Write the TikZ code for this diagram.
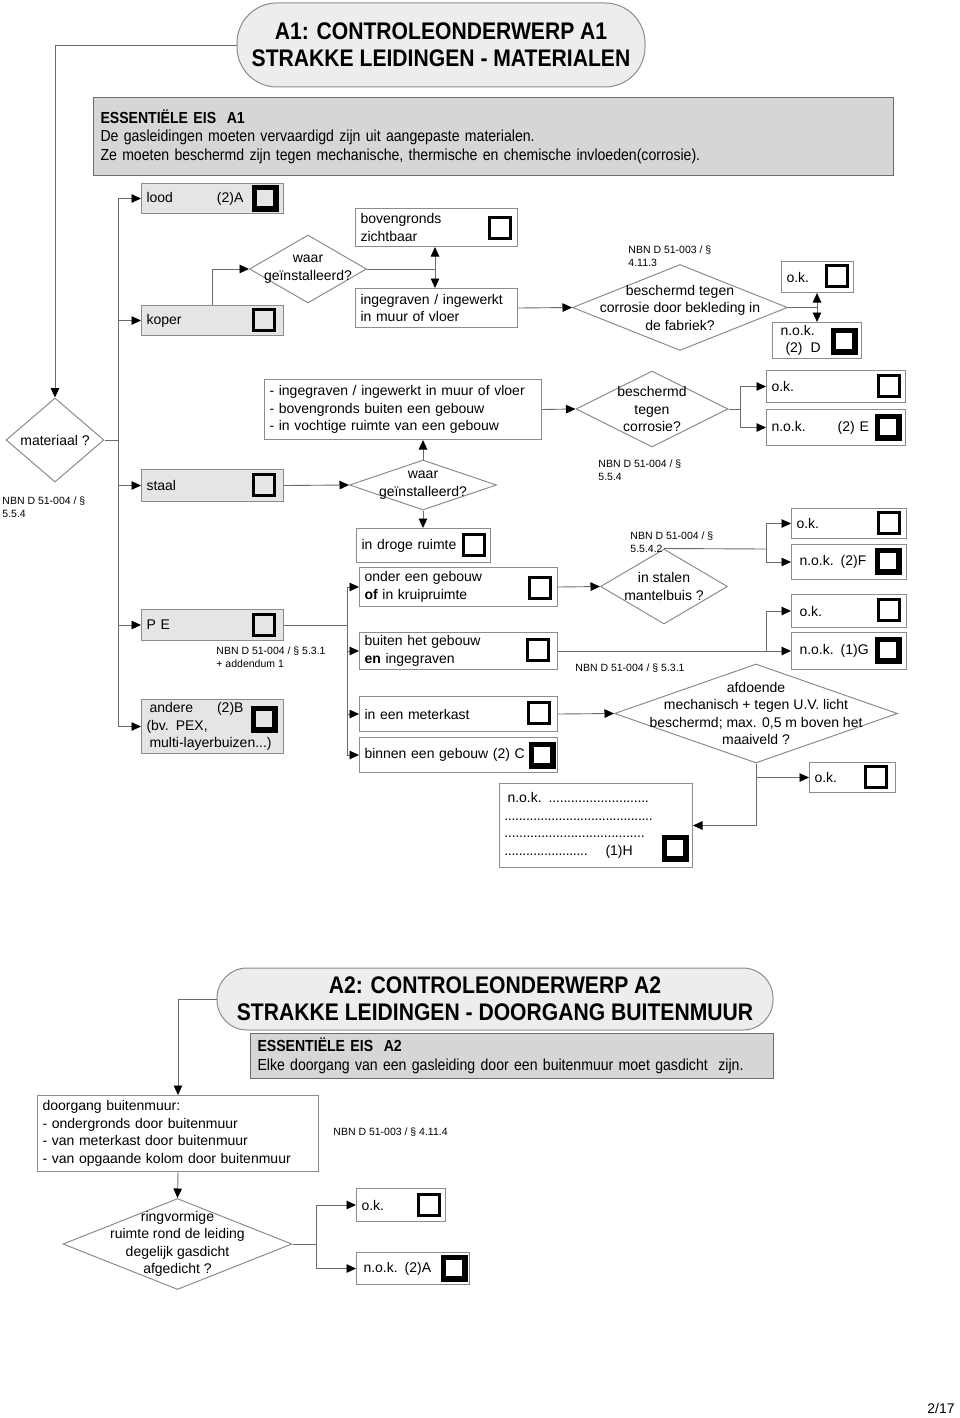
\documentclass[tikz,border=0pt]{standalone}
\usepackage{fontspec}
\setmainfont{Liberation Sans}
\newfontfamily\narrowfont{Liberation Sans}[FakeStretch=0.88]
\usetikzlibrary{shapes.geometric,arrows.meta}
\definecolor{edgegray}{gray}{0.55}
\definecolor{linegray}{gray}{0.42}
\definecolor{matgray}{gray}{0.9}
\definecolor{eisgray}{gray}{0.84}
\definecolor{pillgray}{gray}{0.93}
\newcommand{\dotline}[1]{\leavevmode\hbox to #1{\xleaders\hbox to 3.6pt{\hss.\hss}\hfill}}

\begin{document}
\begin{tikzpicture}[x=1pt,y=-1pt,line width=0.9pt,
    >={Triangle[length=9.5pt,width=8.5pt,color=black]},
    font=\fontsize{14}{17.5}\selectfont]
  \tikzstyle{box}=[draw=edgegray,line width=1pt,anchor=north west,inner xsep=5pt,inner ysep=0pt,align=left]
  \tikzstyle{mat}=[box,fill=matgray]
  \tikzstyle{dia}=[diamond,draw=edgegray,line width=1pt,fill=white,inner sep=0pt]
  \tikzstyle{chk}=[draw,line width=2.5pt,minimum size=21pt,inner sep=0pt]
  \tikzstyle{chkb}=[draw,line width=5.5pt,minimum size=21.5pt,inner sep=0pt]
  \tikzstyle{nbn}=[anchor=west,inner sep=0pt,align=left,font=\fontsize{10.5}{12.5}\selectfont]
  \tikzstyle{wire}=[draw=linegray]
  \tikzstyle{pill}=[draw=edgegray,fill=pillgray,line width=1pt,align=center,inner sep=0pt,font=\narrowfont\bfseries\fontsize{24}{27}\selectfont]
  \tikzstyle{eis}=[draw=linegray,fill=eisgray,line width=1pt,anchor=north west,align=left,inner xsep=7pt,inner ysep=0pt,font=\narrowfont\fontsize{16}{18.5}\selectfont]

  \useasboundingbox (0,0) rectangle (960,1418);

  % A1
  \node[pill,minimum width=408,minimum height=84,rounded corners=40] (T1) at (441,45)
    {A1: CONTROLEONDERWERP A1\\STRAKKE LEIDINGEN - MATERIALEN};
  \node[eis,minimum width=800,minimum height=78,text width=786] (E1) at (93,97)
    {\textbf{ESSENTIËLE EIS\ \ A1}\\De gasleidingen moeten vervaardigd zijn uit aangepaste materialen.\\Ze moeten beschermd zijn tegen mechanische, thermische en chemische invloeden(corrosie).};

  \node[dia,minimum width=98,minimum height=84,label=center:materiaal ?] (M) at (55,440) {};
  \node[nbn] (nM) at (2,507) {NBN D 51-004 / §\\5.5.4};

  % materialen
  \node[mat,minimum width=142,minimum height=30,text width=132] (lood) at (141,183) {lood\hspace{44pt}(2)A};
  \node[chkb] (cA) at (265,198) {};
  \node[mat,minimum width=142,minimum height=30,text width=132] (koper) at (141,305) {koper};
  \node[chk] (cK) at (264,320) {};
  \node[mat,minimum width=142,minimum height=32,text width=132] (staal) at (141,469) {staal};
  \node[chk] (cS) at (264,485) {};
  \node[mat,minimum width=142,minimum height=31,text width=132] (PE) at (141,609) {P E};
  \node[chk] (cPE) at (264,625) {};
  \node[nbn] (nPE) at (216,657) {NBN D 51-004 / § 5.3.1\\+ addendum 1};
  \node[mat,minimum width=142,minimum height=54,text width=132] (andere) at (141,699)
    {\hspace*{3pt}andere\hspace{24pt}(2)B\\(bv. PEX,\\\hspace*{3pt}multi-layerbuizen...)};
  \node[chkb] (cB) at (264,719) {};

  % koper
  \node[dia,minimum width=117,minimum height=68,label={[align=center]center:{waar\\geïnstalleerd?}}] (D1) at (308,269) {};
  \node[box,minimum width=162,minimum height=38,text width=152] (B1) at (355,208) {bovengronds\\zichtbaar};
  \node[chk] (cBo) at (500,228) {};
  \node[box,minimum width=162,minimum height=39,text width=152] (I1) at (355,288) {ingegraven / ingewerkt\\in muur of vloer};
  \node[dia,minimum width=215,minimum height=86,label={[align=center]center:{beschermd tegen\\corrosie door bekleding in\\de fabriek?}}] (D2) at (680,307.5) {};
  \node[nbn] (nD2) at (628,256) {NBN D 51-003 / §\\4.11.3};
  \node[box,minimum width=72,minimum height=31,text width=62] (OK1) at (781,261) {o.k.};
  \node[chk] (cO1) at (837,276) {};
  \node[box,minimum width=89,minimum height=36,text width=79] (NOK1) at (772,322)
    {\hspace*{3pt}n.o.k.\\\hspace*{8pt}(2)\hspace{8pt}D};
  \node[chkb] (cD) at (844,341) {};

  % staal
  \node[dia,minimum width=147,minimum height=50,label={[align=center]center:{waar\\geïnstalleerd?}}] (D4) at (423,485) {};
  \node[box,minimum width=277,minimum height=60,text width=267] (G) at (264,379)
    {- ingegraven / ingewerkt in muur of vloer\\- bovengronds buiten een gebouw\\- in vochtige ruimte van een gebouw};
  \node[dia,minimum width=152,minimum height=76,label={[align=center]center:{beschermd\\tegen\\corrosie?}}] (D3) at (652,409) {};
  \node[nbn] (nD3) at (598,470) {NBN D 51-004 / §\\5.5.4};
  \node[box,minimum width=139,minimum height=32,text width=129] (OK2) at (766,370) {o.k.};
  \node[chk] (cO2) at (889,386) {};
  \node[box,minimum width=139,minimum height=36,text width=129] (NOK2) at (766,409) {n.o.k.\hspace{32pt}(2) E};
  \node[chkb] (cE) at (888,427) {};
  \node[box,minimum width=134,minimum height=34,text width=124] (DR) at (356,528) {in droge ruimte};
  \node[chk] (cDr) at (474,545) {};

  % PE
  \node[box,minimum width=198,minimum height=39,text width=188] (ON) at (359,567) {onder een gebouw\\\textbf{of} in kruipruimte};
  \node[chk] (cOn) at (540,588) {};
  \node[box,minimum width=198,minimum height=37,text width=188] (BU) at (359,632) {buiten het gebouw\\\textbf{en} ingegraven};
  \node[chk] (cBu) at (538,650) {};
  \node[box,minimum width=198,minimum height=35,text width=188] (MK) at (359,696) {in een meterkast};
  \node[chk] (cMe) at (539,713) {};
  \node[box,minimum width=198,minimum height=35,text width=188] (BI) at (359,737) {binnen een gebouw (2) C};
  \node[chkb] (cC) at (542,755) {};

  \node[dia,minimum width=127,minimum height=75,label={[align=center]center:{in stalen\\mantelbuis ?}}] (D5) at (664,586.5) {};
  \node[nbn] (nD5) at (630,542) {NBN D 51-004 / §\\5.5.4.2};
  \node[box,minimum width=115,minimum height=30,text width=105] (OK3) at (791,508) {o.k.};
  \node[chk] (cO3) at (889,523) {};
  \node[box,minimum width=115,minimum height=35,text width=105] (NOK3) at (791,544) {\hspace*{3pt}n.o.k. (2)F};
  \node[chkb] (cF) at (888,561) {};
  \node[box,minimum width=115,minimum height=33,text width=105] (OK4) at (791,594) {\hspace*{3pt}o.k.};
  \node[chk] (cO4) at (889,610) {};
  \node[box,minimum width=115,minimum height=37,text width=105] (NOK4) at (791,632) {\hspace*{3pt}n.o.k. (1)G};
  \node[chkb] (cG) at (888,650) {};
  \node[nbn] (nBU) at (575,668) {NBN D 51-004 / § 5.3.1};

  \node[dia,minimum width=283,minimum height=99,label={[align=center]center:{afdoende\\mechanisch + tegen U.V. licht\\beschermd; max. 0,5 m boven het\\maaiveld ?}}] (D6) at (756,713.5) {};
  \node[box,minimum width=86,minimum height=30,text width=76] (OK5) at (809,762) {o.k.};
  \node[chk] (cO5) at (876,777) {};
  \node[box,minimum width=193,minimum height=84,text width=183] (H) at (499,783)
    {\hspace*{3pt}n.o.k. \dotline{100pt}\\\dotline{148pt}\\\dotline{140pt}\\\dotline{83pt}\hspace{18pt}(1)H};
  \node[chkb] (cH) at (675,848) {};

  % verbindingen A1
  \coordinate (bus) at (118,0);
  \draw[wire,->] (T1.west) -| (M.north);
  \draw[wire] (M.east) -- (bus |- M.east);
  \draw[wire] (bus |- lood.west) -- (bus |- andere.west);
  \foreach \n in {lood,koper,staal,PE,andere}
    \draw[wire,->] (bus |- \n.west) -- (\n.west);
  \draw[wire,->] (koper.north) |- (D1.west);
  \coordinate (s1) at (435,269);
  \draw[wire] (D1.east) -- (s1);
  \draw[wire,->] (s1) -- (s1 |- B1.south);
  \draw[wire,->] (s1) -- (s1 |- I1.north);
  \draw[wire,->] (I1.east) -- (D2.west);
  \coordinate (s2) at (817,307.5);
  \draw[wire] (D2.east) -- (s2);
  \draw[wire,->] (s2) -- (s2 |- OK1.south);
  \draw[wire,->] (s2) -- (s2 |- NOK1.north);

  \draw[wire,->] (staal.east) -- (D4.west);
  \draw[wire,->] (D4.north) -- (D4.north |- G.south);
  \draw[wire,->] (D4.south) -- (D4.south |- DR.north);
  \draw[wire,->] (G.east) -- (D3.west);
  \coordinate (s3) at (740,409);
  \draw[wire] (D3.east) -- (s3);
  \draw[wire,->] (s3) |- (OK2.west);
  \draw[wire,->] (s3) |- (NOK2.west);

  \coordinate (pb) at (347,0);
  \draw[wire] (PE.east) -- (pb |- PE.east);
  \draw[wire] (pb |- ON.west) -- (pb |- BI.west);
  \foreach \n in {ON,BU,MK,BI}
    \draw[wire,->] (pb |- \n.west) -- (\n.west);

  \draw[wire,->] (ON.east) -- (D5.west);
  \coordinate (s5) at (766,549);
  \draw[wire] (D5.north) -- (s5);
  \draw[wire,->] (s5) |- (OK3.west);
  \draw[wire,->] (s5) |- (NOK3.west);
  \coordinate (s6) at (766,650.5);
  \draw[wire,->] (BU.east) -- (NOK4.west);
  \draw[wire,->] (s6) |- (OK4.west);
  \draw[wire,->] (MK.east) -- (D6.west);
  \draw[wire,->] (D6.south) |- (H.east);
  \draw[wire,->] (D6.south |- OK5.west) -- (OK5.west);

  % A2
  \node[pill,minimum width=556,minimum height=62,rounded corners=30] (T2) at (495,999)
    {A2: CONTROLEONDERWERP A2\\STRAKKE LEIDINGEN - DOORGANG BUITENMUUR};
  \node[eis,minimum width=523,minimum height=45,text width=509] (E2) at (250,1033)
    {\textbf{ESSENTIËLE EIS\ \ A2}\\Elke doorgang van een gasleiding door een buitenmuur moet gasdicht\ \ zijn.};
  \node[box,minimum width=281,minimum height=76,text width=271] (DB) at (37,1095)
    {doorgang buitenmuur:\\- ondergronds door buitenmuur\\- van meterkast door buitenmuur\\- van opgaande kolom door buitenmuur};
  \node[nbn] (nDB) at (333,1132) {NBN D 51-003 / § 4.11.4};
  \node[dia,minimum width=229,minimum height=91,label={[align=center]center:{ringvormige\\ruimte rond de leiding\\degelijk gasdicht\\afgedicht ?}}] (D7) at (177.5,1244) {};
  \node[box,minimum width=89,minimum height=33,text width=79] (OK6) at (356,1188) {o.k.};
  \node[chk] (cO6) at (429,1205) {};
  \node[box,minimum width=113,minimum height=32,text width=103] (NOK6) at (356,1252) {\hspace*{2pt}n.o.k. (2)A};
  \node[chkb] (cA2) at (454,1268) {};

  \draw[wire,->] (T2.west) -| (DB.north);
  \draw[wire,->] (DB.south) -- (D7.north);
  \coordinate (s8) at (316,1244);
  \draw[wire] (D7.east) -- (s8);
  \draw[wire,->] (s8) |- (OK6.west);
  \draw[wire,->] (s8) |- (NOK6.west);

  \node (pg) at (941,1408) {2/17};
\end{tikzpicture}
\end{document}
